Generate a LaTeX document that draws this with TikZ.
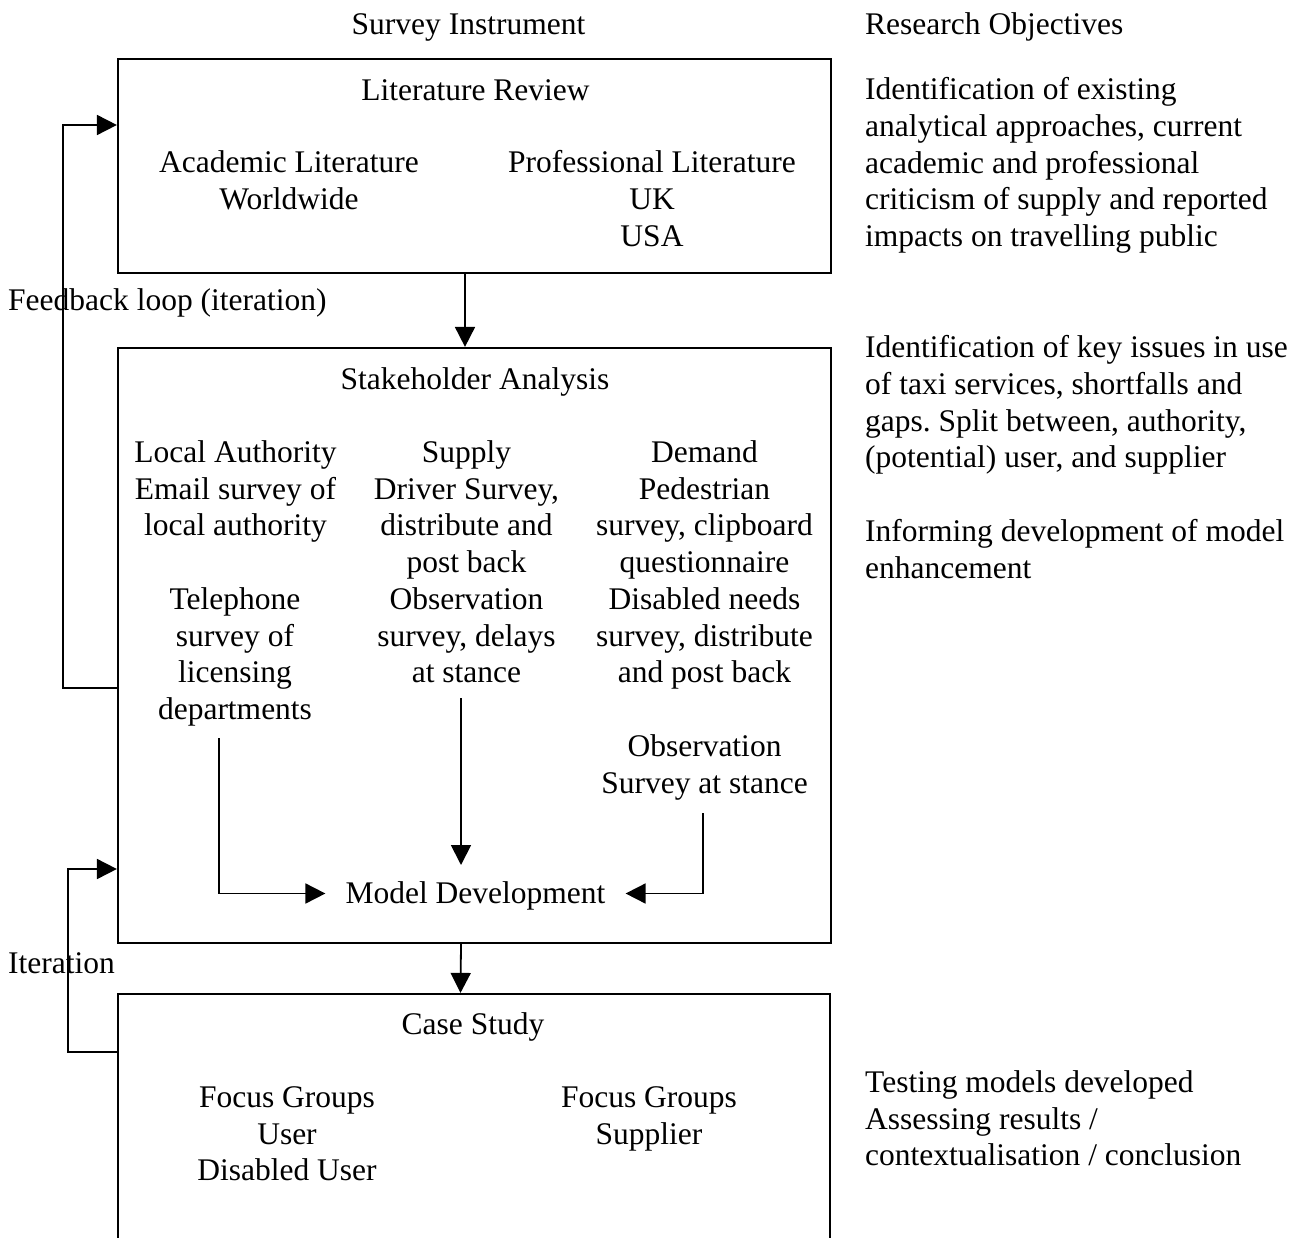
\documentclass[tikz,border=0pt]{standalone}
\usepackage{fontspec}
\setmainfont{Liberation Serif}
\usetikzlibrary{arrows.meta}
\frenchspacing
% zero-width rule giving every text node the same top edge above its first baseline
\newcommand\tstrut{\rule{0pt}{26pt}}
\begin{document}
\begin{tikzpicture}[x=1pt,y=-1pt,
  every node/.style={font=\fontsize{31.5}{36.7}\selectfont},
  txt/.style={anchor=north, align=center, inner sep=0pt, yshift=26pt, execute at begin node=\tstrut},
  txtL/.style={anchor=north west, align=left, inner sep=0pt, yshift=26pt, execute at begin node=\tstrut},
  panel/.style={draw, line width=2.2pt, inner sep=0pt},
  arr/.style={line width=1.8pt, -{Triangle[length=20pt,width=20pt]}}]
\path[use as bounding box, clip] (0,0) rectangle (1308,1238);

% the three stages
\node[panel, minimum width=713pt, minimum height=214pt] (lit)   at (474.5,166)  {};
\node[panel, minimum width=713pt, minimum height=595pt] (stake) at (474.5,645.5) {};
\node[panel, minimum width=712pt, minimum height=266pt] (case)  at (474,1127)    {};

% column headings
\node[txt]  (svy) at (468.5,34) {Survey Instrument};
\node[txtL] (obj) at (865,34)   {Research Objectives};

% literature review
\node[txt] (litT) at (475.5,100) {Literature Review};
\node[txt] (acad) at (289,176.5) {Academic Literature\\Worldwide};
\node[txt] (prof) at (652,176.5) {Professional Literature\\UK\\USA};
\node[txtL] (obj1) at (865,103.5) {Identification of existing\\analytical approaches, current\\academic and professional\\criticism of supply and reported\\impacts on travelling public};

\node[txtL] (fbl) at (8,310) {Feedback loop (iteration)};

% stakeholder analysis
\node[txt] (stT) at (475,389)     {Stakeholder Analysis};
\node[txt] (la)  at (235.5,466.5) {Local Authority\\Email survey of\\local authority};
\node[txt] (tel) at (235,613.5)   {Telephone\\survey of\\licensing\\departments};
\node[txt] (sup) at (466.5,466.5) {Supply\\Driver Survey,\\distribute and\\post back\\Observation\\survey, delays\\at stance};
\node[txt] (dem) at (704.5,466.5) {Demand\\Pedestrian\\survey, clipboard\\questionnaire\\Disabled needs\\survey, distribute\\and post back};
\node[txt] (obs) at (704.5,760.5) {Observation\\Survey at stance};
\node[txt, inner xsep=20pt] (model) at (475.5,903.5) {Model Development};
\node[txtL] (obj2) at (865,361.5) {Identification of key issues in use\\of taxi services, shortfalls and\\gaps. Split between, authority,\\(potential) user, and supplier};
\node[txtL] (obj3) at (865,545.5) {Informing development of model\\enhancement};

\node[txtL] (itl) at (8,973) {Iteration};

% case study
\node[txt] (csT) at (473,1034)    {Case Study};
\node[txt] (fgu) at (287,1112.5)  {Focus Groups\\User\\Disabled User};
\node[txt] (fgs) at (649,1112.5)  {Focus Groups\\Supplier};
\node[txtL] (obj4) at (865,1096.5) {Testing models developed\\Assessing results /\\contextualisation / conclusion};

% flow between stages
\draw[arr] ([xshift=-9.5pt]lit.south) -- ([xshift=-9.5pt]stake.north);
\draw[arr] ([xshift=-13.5pt]stake.south) -- ([xshift=-13.5pt]case.north);

% feedback loops on the left
\coordinate (fbB) at (63,688);
\coordinate (fbT) at (63,125);
\draw[arr] (stake.west |- fbB) -- (fbB) -- (fbT) -- (lit.west |- fbT);
\coordinate (itB) at (68,1052);
\coordinate (itT) at (68,869);
\draw[arr] (case.west |- itB) -- (itB) -- (itT) -- (stake.west |- itT);

% inputs to model development
\coordinate (telFoot) at (219,738);
\coordinate (supFoot) at (461,698);
\coordinate (supTip)  at (461,865);
\coordinate (obsFoot) at (703,813);
\coordinate (mdRow)   at (0,893.5);
\draw[arr] (telFoot) |- (model.west |- mdRow);
\draw[arr] (supFoot) -- (supTip);
\draw[arr] (obsFoot) |- (model.east |- mdRow);
\end{tikzpicture}
\end{document}
